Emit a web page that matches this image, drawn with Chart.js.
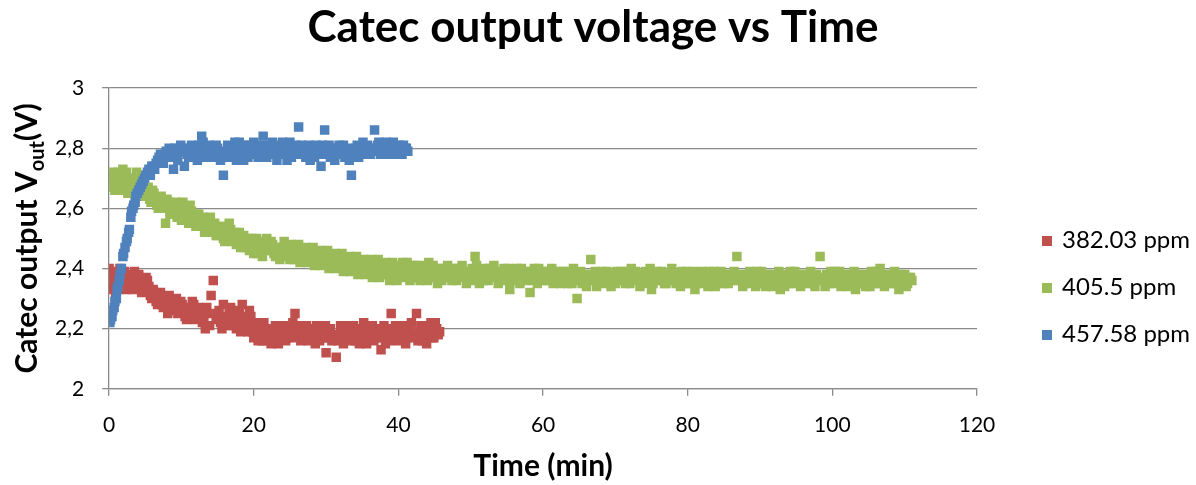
<!DOCTYPE html>
<html>
<head>
<meta charset="utf-8">
<script src="https://cdn.jsdelivr.net/npm/chart.js@4.4.0/dist/chart.umd.min.js"></script>
<style>
  html, body { margin: 0; padding: 0; background: #fff; }
  #wrap { width: 1196px; height: 485px; }
</style>
</head>
<body>
<div id="wrap"><canvas id="graph"></canvas></div>
<script>
// values (time in min, output in V)
const seriesLabels = ["382.03 ppm", "405.5 ppm", "457.58 ppm"];
const seriesColors = ["#C0504D", "#9BBB59", "#4F81BD"];

const redTime = [0.0, 0.2, 0.4, 0.7, 1.0, 1.3, 1.7, 2.1, 2.5, 2.9, 3.3, 3.7, 4.1, 4.5, 4.9, 5.3, 5.7, 6.1, 6.5, 6.9,
  7.3, 7.7, 8.1, 8.5, 8.9, 9.3, 9.7, 10.1, 10.5, 10.9, 11.3, 11.7, 12.1, 12.5, 12.9, 13.3, 13.7, 14.1, 14.4, 14.8,
  15.2, 15.6, 16.0, 16.4, 16.8, 17.2, 17.6, 18.0, 18.4, 18.8, 19.2, 19.6, 20.0, 20.4, 20.8, 21.2, 21.6, 22.0, 22.4, 22.8,
  23.2, 23.6, 24.0, 24.4, 24.8, 25.2, 25.7, 26.1, 26.5, 26.9, 27.3, 27.7, 28.1, 28.5, 28.9, 29.3, 29.7, 30.0, 30.4, 30.8,
  31.4, 31.8, 32.2, 32.6, 33.0, 33.4, 33.8, 34.2, 34.6, 35.0, 35.4, 35.8, 36.2, 36.6, 37.0, 37.6, 38.0, 38.4, 38.8, 39.0,
  39.4, 39.8, 40.2, 40.6, 41.0, 41.4, 41.8, 42.2, 42.5, 42.9, 43.3, 43.7, 44.1, 44.5, 44.9, 45.3, 45.7];
const redVolt = [2.40, 2.36, 2.33, 2.38, 2.35, 2.37, 2.34, 2.39, 2.36, 2.37, 2.33, 2.35, 2.38, 2.32, 2.34, 2.36, 2.31, 2.33, 2.29, 2.31,
  2.28, 2.30, 2.25, 2.29, 2.27, 2.30, 2.26, 2.28, 2.24, 2.27, 2.25, 2.28, 2.24, 2.26, 2.22, 2.20, 2.25, 2.31, 2.36, 2.23,
  2.26, 2.20, 2.24, 2.21, 2.27, 2.23, 2.20, 2.25, 2.28, 2.22, 2.19, 2.24, 2.17, 2.21, 2.18, 2.16, 2.20, 2.18, 2.15, 2.19,
  2.17, 2.21, 2.18, 2.16, 2.20, 2.17, 2.25, 2.19, 2.16, 2.18, 2.21, 2.17, 2.19, 2.15, 2.18, 2.20, 2.17, 2.12, 2.19, 2.16,
  2.105, 2.18, 2.20, 2.17, 2.19, 2.16, 2.21, 2.18, 2.15, 2.19, 2.17, 2.20, 2.18, 2.16, 2.19, 2.13, 2.21, 2.18, 2.16, 2.25,
  2.19, 2.17, 2.20, 2.18, 2.15, 2.19, 2.22, 2.17, 2.25, 2.19, 2.16, 2.21, 2.18, 2.22, 2.17, 2.20, 2.19];
// second pass of readings between the first ones
const redTimeB = [0.1, 0.5, 0.9, 1.5, 1.9, 2.3, 2.7, 3.1, 3.5, 3.9,
  4.3, 4.7, 5.1, 5.5, 5.9, 6.3, 6.7, 7.1, 7.5, 7.9,
  8.3, 8.7, 9.1, 9.5, 9.9, 10.3, 10.7, 11.1, 11.5, 11.9,
  12.3, 12.7, 13.1, 13.5, 13.9, 15.0, 15.4, 15.8, 16.2, 16.6,
  17.0, 17.4, 17.8, 18.2, 18.6, 19.0, 19.4, 19.8, 20.2, 20.6,
  21.0, 21.4, 21.8, 22.2, 22.6, 23.0, 23.4, 23.8, 24.2, 24.6,
  25.0, 25.4, 25.9, 26.3, 26.7, 27.1, 27.5, 27.9, 28.3, 28.7,
  29.1, 29.5, 29.9, 30.2, 30.6, 31.0, 31.6, 32.0, 32.4, 32.8,
  33.2, 33.6, 34.0, 34.4, 34.8, 35.2, 35.6, 36.0, 36.4, 36.8,
  37.2, 37.8, 38.2, 38.6, 39.2, 39.6, 40.0, 40.4, 40.8, 41.2,
  41.6, 42.0, 42.7, 43.1, 43.5, 43.9, 44.3, 44.7, 45.1, 45.5];
const redVoltB = [2.34, 2.39, 2.32, 2.40, 2.36, 2.33, 2.38, 2.35, 2.39, 2.34,
  2.36, 2.33, 2.37, 2.34, 2.30, 2.32, 2.28, 2.32, 2.27, 2.29,
  2.31, 2.26, 2.28, 2.25, 2.29, 2.27, 2.23, 2.26, 2.29, 2.23,
  2.27, 2.25, 2.23, 2.27, 2.21, 2.25, 2.22, 2.28, 2.22, 2.25,
  2.21, 2.26, 2.23, 2.19, 2.24, 2.21, 2.26, 2.19, 2.22, 2.16,
  2.19, 2.22, 2.16, 2.20, 2.17, 2.21, 2.15, 2.19, 2.21, 2.17,
  2.19, 2.22, 2.18, 2.21, 2.17, 2.19, 2.16, 2.20, 2.18, 2.21,
  2.16, 2.19, 2.21, 2.17, 2.20, 2.18, 2.16, 2.21, 2.15, 2.19,
  2.21, 2.18, 2.16, 2.20, 2.18, 2.22, 2.15, 2.18, 2.21, 2.17,
  2.20, 2.17, 2.15, 2.20, 2.17, 2.21, 2.16, 2.18, 2.21, 2.17,
  2.20, 2.18, 2.16, 2.21, 2.19, 2.15, 2.20, 2.17, 2.22, 2.18];

const greenTime = [0.0, 0.3, 0.6, 0.9, 1.2, 1.5, 1.9, 2.2, 2.6, 3.0, 3.4, 3.8, 4.2, 4.6, 5.0, 5.4, 5.8, 6.2, 6.6, 7.0,
  7.4, 7.8, 8.2, 8.6, 9.0, 9.4, 9.8, 10.2, 10.6, 11.0, 11.4, 11.8, 12.2, 12.6, 13.0, 13.4, 13.8, 14.2, 14.6, 15.0,
  15.4, 15.8, 16.2, 16.6, 17.0, 17.4, 17.8, 18.2, 18.6, 19.0, 19.4, 19.8, 20.2, 20.6, 21.0, 21.4, 21.8, 22.2, 22.6, 23.0,
  23.4, 23.8, 24.2, 24.6, 25.0, 25.4, 25.8, 26.2, 26.6, 27.0, 27.4, 27.8, 28.2, 28.6, 29.0, 29.4, 29.8, 30.2, 30.6, 31.0,
  31.4, 31.8, 32.2, 32.6, 33.0, 33.4, 33.8, 34.2, 34.6, 35.0, 35.4, 35.8, 36.2, 36.6, 37.0, 37.4, 37.8, 38.2, 38.6, 39.0,
  39.4, 39.8, 40.2, 40.6, 41.0, 41.4, 41.8, 42.2, 42.6, 43.0, 43.4, 43.8, 44.2, 44.6, 45.0, 45.4, 45.8, 46.2, 46.6, 47.0,
  47.4, 47.8, 48.2, 48.6, 49.0, 49.4, 49.8, 50.2, 50.6, 51.0, 51.4, 51.8, 52.2, 52.6, 53.0, 53.4, 53.8, 54.2, 54.6, 55.0,
  55.4, 55.8, 56.2, 56.6, 57.0, 57.4, 57.8, 58.2, 58.6, 59.0, 59.4, 59.8, 60.2, 60.6, 61.0, 61.4, 61.8, 62.2, 62.6, 63.0,
  63.4, 63.8, 64.2, 64.7, 65.0, 65.4, 65.8, 66.2, 66.6, 67.0, 67.4, 67.8, 68.2, 68.6, 69.0, 69.4, 69.8, 70.2, 70.6, 71.0,
  71.4, 71.8, 72.2, 72.6, 73.0, 73.4, 73.8, 74.2, 74.6, 75.0, 75.4, 75.8, 76.2, 76.6, 77.0, 77.4, 77.8, 78.2, 78.6, 79.0,
  79.4, 79.8, 80.2, 80.6, 81.0, 81.4, 81.8, 82.2, 82.6, 83.0, 83.4, 83.8, 84.2, 84.6, 85.0, 85.4, 85.8, 86.2, 86.8, 87.2,
  87.6, 88.0, 88.4, 88.8, 89.2, 89.6, 90.0, 90.4, 90.8, 91.2, 91.6, 92.0, 92.4, 92.8, 93.2, 93.6, 94.0, 94.4, 94.8, 95.2,
  95.6, 96.0, 96.4, 96.8, 97.2, 97.6, 98.0, 98.3, 98.8, 99.2, 99.6, 100.0, 100.4, 100.8, 101.2, 101.6, 102.0, 102.4, 102.8, 103.2,
  103.6, 104.0, 104.4, 104.8, 105.2, 105.6, 106.0, 106.4, 106.8, 107.2, 107.6, 108.0, 108.4, 108.8, 109.2, 109.6, 110.0, 110.4, 110.8];
const greenVolt = [2.71, 2.67, 2.70, 2.68, 2.72, 2.66, 2.73, 2.69, 2.65, 2.70, 2.68, 2.72, 2.71, 2.66, 2.64, 2.67, 2.62, 2.65, 2.61, 2.63,
  2.60, 2.55, 2.62, 2.59, 2.61, 2.57, 2.60, 2.62, 2.58, 2.55, 2.59, 2.56, 2.58, 2.54, 2.57, 2.53, 2.56, 2.52, 2.55, 2.51,
  2.54, 2.50, 2.53, 2.55, 2.49, 2.52, 2.50, 2.47, 2.51, 2.49, 2.46, 2.50, 2.48, 2.45, 2.49, 2.47, 2.50, 2.46, 2.48, 2.44,
  2.47, 2.45, 2.49, 2.46, 2.43, 2.47, 2.45, 2.48, 2.44, 2.46, 2.42, 2.45, 2.47, 2.43, 2.45, 2.41, 2.44, 2.46, 2.42, 2.44,
  2.40, 2.43, 2.45, 2.41, 2.43, 2.39, 2.42, 2.44, 2.40, 2.42, 2.38, 2.41, 2.43, 2.39, 2.41, 2.37, 2.40, 2.42, 2.38, 2.41,
  2.39, 2.36, 2.40, 2.42, 2.38, 2.40, 2.37, 2.41, 2.39, 2.36, 2.40, 2.38, 2.42, 2.37, 2.39, 2.35, 2.38, 2.40, 2.37, 2.39,
  2.36, 2.38, 2.40, 2.37, 2.39, 2.35, 2.38, 2.40, 2.44, 2.37, 2.39, 2.36, 2.38, 2.40, 2.37, 2.39, 2.35, 2.38, 2.40, 2.37,
  2.33, 2.39, 2.36, 2.38, 2.40, 2.37, 2.39, 2.32, 2.36, 2.38, 2.40, 2.37, 2.39, 2.36, 2.38, 2.35, 2.37, 2.39, 2.36, 2.38,
  2.35, 2.37, 2.40, 2.30, 2.37, 2.35, 2.38, 2.36, 2.43, 2.37, 2.34, 2.37, 2.39, 2.36, 2.38, 2.34, 2.37, 2.39, 2.36, 2.38,
  2.35, 2.37, 2.40, 2.36, 2.38, 2.34, 2.37, 2.39, 2.36, 2.33, 2.37, 2.39, 2.36, 2.38, 2.35, 2.37, 2.40, 2.36, 2.38, 2.34,
  2.37, 2.39, 2.35, 2.37, 2.33, 2.36, 2.38, 2.35, 2.37, 2.39, 2.36, 2.34, 2.37, 2.39, 2.35, 2.37, 2.38, 2.36, 2.44, 2.37,
  2.34, 2.36, 2.38, 2.35, 2.37, 2.39, 2.35, 2.37, 2.34, 2.36, 2.38, 2.35, 2.37, 2.33, 2.36, 2.38, 2.35, 2.37, 2.39, 2.36,
  2.34, 2.37, 2.35, 2.38, 2.36, 2.34, 2.37, 2.44, 2.36, 2.38, 2.35, 2.37, 2.39, 2.36, 2.34, 2.37, 2.35, 2.38, 2.36, 2.33,
  2.37, 2.35, 2.38, 2.36, 2.34, 2.37, 2.39, 2.35, 2.37, 2.34, 2.36, 2.38, 2.35, 2.37, 2.33, 2.36, 2.38, 2.35, 2.37];
const greenTimeB = [0.1, 0.5, 0.8, 1.1, 1.4, 1.7, 2.0, 2.4, 2.8, 3.2,
  3.6, 4.0, 4.4, 4.8, 5.2, 5.6, 6.0, 6.4, 6.8, 7.2,
  7.6, 8.0, 8.4, 8.8, 9.2, 9.6, 10.0, 10.4, 10.8, 11.2,
  11.6, 12.0, 12.4, 12.8, 13.2, 13.6, 14.0, 14.4, 14.8, 15.2,
  15.6, 16.0, 16.4, 16.8, 17.2, 17.6, 18.0, 18.4, 18.8, 19.2,
  19.6, 20.0, 20.4, 20.8, 21.2, 21.6, 22.0, 22.4, 22.8, 23.2,
  23.6, 24.0, 24.4, 24.8, 25.2, 25.6, 26.0, 26.4, 26.8, 27.2,
  27.6, 28.0, 28.4, 28.8, 29.2, 29.6, 30.0, 30.4, 30.8, 31.2,
  31.6, 32.0, 32.4, 32.8, 33.2, 33.6, 34.0, 34.4, 34.8, 35.2,
  35.6, 36.0, 36.4, 36.8, 37.2, 37.6, 38.0, 38.4, 38.8, 39.2,
  39.6, 40.0, 40.4, 40.8, 41.2, 41.6, 42.0, 42.4, 42.8, 43.2,
  43.6, 44.0, 44.4, 44.8, 45.2, 45.6, 46.0, 46.4, 46.8, 47.2,
  47.6, 48.0, 48.4, 48.8, 49.2, 49.6, 50.0, 50.4, 50.8, 51.2,
  51.6, 52.0, 52.4, 52.8, 53.2, 53.6, 54.0, 54.4, 54.8, 55.2,
  55.6, 56.0, 56.4, 56.8, 57.2, 57.6, 58.0, 58.4, 58.8, 59.2,
  59.6, 60.0, 60.4, 60.8, 61.2, 61.6, 62.0, 62.4, 62.8, 63.2,
  63.6, 64.0, 64.4, 64.9, 65.2, 65.6, 66.0, 66.4, 66.8, 67.2,
  67.6, 68.0, 68.4, 68.8, 69.2, 69.6, 70.0, 70.4, 70.8, 71.2,
  71.6, 72.0, 72.4, 72.8, 73.2, 73.6, 74.0, 74.4, 74.8, 75.2,
  75.6, 76.0, 76.4, 76.8, 77.2, 77.6, 78.0, 78.4, 78.8, 79.2,
  79.6, 80.0, 80.4, 80.8, 81.2, 81.6, 82.0, 82.4, 82.8, 83.2,
  83.6, 84.0, 84.4, 84.8, 85.2, 85.6, 86.0, 86.4, 87.0, 87.4,
  87.8, 88.2, 88.6, 89.0, 89.4, 89.8, 90.2, 90.6, 91.0, 91.4,
  91.8, 92.2, 92.6, 93.0, 93.4, 93.8, 94.2, 94.6, 95.0, 95.4,
  95.8, 96.2, 96.6, 97.0, 97.4, 97.8, 98.5, 99.0, 99.4, 99.8,
  100.2, 100.6, 101.0, 101.4, 101.8, 102.2, 102.6, 103.0, 103.4, 103.8,
  104.2, 104.6, 105.0, 105.4, 105.8, 106.2, 106.6, 107.0, 107.4, 107.8,
  108.2, 108.6, 109.0, 109.4, 109.8, 110.2, 110.6, 111.0];
const greenVoltB = [2.69, 2.72, 2.66, 2.70, 2.68, 2.71, 2.67, 2.72, 2.69, 2.66,
  2.70, 2.67, 2.69, 2.70, 2.66, 2.63, 2.66, 2.63, 2.60, 2.64,
  2.61, 2.63, 2.58, 2.60, 2.62, 2.59, 2.56, 2.60, 2.57, 2.61,
  2.57, 2.54, 2.58, 2.56, 2.52, 2.55, 2.57, 2.53, 2.51, 2.54,
  2.52, 2.49, 2.51, 2.53, 2.50, 2.48, 2.52, 2.49, 2.47, 2.50,
  2.48, 2.45, 2.50, 2.47, 2.44, 2.48, 2.46, 2.49, 2.45, 2.47,
  2.43, 2.47, 2.44, 2.46, 2.48, 2.43, 2.46, 2.42, 2.45, 2.47,
  2.43, 2.45, 2.41, 2.44, 2.46, 2.42, 2.44, 2.40, 2.43, 2.45,
  2.41, 2.44, 2.39, 2.42, 2.44, 2.40, 2.43, 2.38, 2.41, 2.43,
  2.39, 2.42, 2.37, 2.40, 2.43, 2.38, 2.41, 2.39, 2.36, 2.42,
  2.38, 2.41, 2.37, 2.39, 2.42, 2.36, 2.39, 2.41, 2.37, 2.39,
  2.41, 2.36, 2.39, 2.41, 2.37, 2.40, 2.36, 2.39, 2.41, 2.37,
  2.40, 2.36, 2.38, 2.41, 2.37, 2.39, 2.36, 2.38, 2.41, 2.35,
  2.38, 2.40, 2.36, 2.39, 2.41, 2.37, 2.39, 2.36, 2.38, 2.40,
  2.36, 2.38, 2.40, 2.35, 2.38, 2.36, 2.39, 2.37, 2.40, 2.35,
  2.38, 2.36, 2.39, 2.37, 2.40, 2.36, 2.38, 2.35, 2.39, 2.37,
  2.39, 2.35, 2.38, 2.36, 2.39, 2.37, 2.34, 2.38, 2.36, 2.39,
  2.36, 2.38, 2.35, 2.39, 2.36, 2.38, 2.35, 2.37, 2.39, 2.36,
  2.39, 2.35, 2.37, 2.39, 2.36, 2.38, 2.35, 2.37, 2.40, 2.35,
  2.38, 2.36, 2.39, 2.35, 2.38, 2.36, 2.38, 2.35, 2.37, 2.39,
  2.35, 2.38, 2.36, 2.39, 2.35, 2.37, 2.39, 2.36, 2.34, 2.37,
  2.39, 2.35, 2.38, 2.36, 2.38, 2.35, 2.37, 2.39, 2.36, 2.38,
  2.35, 2.37, 2.39, 2.36, 2.34, 2.37, 2.39, 2.35, 2.38, 2.36,
  2.34, 2.37, 2.39, 2.36, 2.34, 2.37, 2.39, 2.35, 2.37, 2.38,
  2.35, 2.38, 2.36, 2.39, 2.35, 2.38, 2.36, 2.34, 2.37, 2.39,
  2.35, 2.37, 2.39, 2.36, 2.38, 2.34, 2.37, 2.39, 2.35, 2.38,
  2.36, 2.34, 2.37, 2.39, 2.35, 2.37, 2.40, 2.36, 2.38, 2.35,
  2.37, 2.39, 2.35, 2.38, 2.36, 2.34, 2.37, 2.36];

const blueTime = [0.1, 0.4, 0.7, 1.0, 1.2, 1.5, 1.9, 2.2, 2.5, 2.8, 3.1, 3.4, 3.7, 4.1, 4.5, 4.9, 5.3, 5.7, 6.1, 6.5,
  6.9, 7.3, 7.7, 8.1, 8.5, 8.9, 9.3, 9.7, 10.1, 10.4, 10.8, 11.2, 11.6, 12.0, 12.4, 12.8, 13.2, 13.6, 14.0, 14.4,
  14.8, 15.2, 15.8, 16.2, 16.6, 17.0, 17.4, 17.8, 18.2, 18.6, 19.0, 19.4, 19.8, 20.2, 20.6, 21.3, 21.6, 22.0, 22.4, 22.8,
  23.2, 23.6, 24.0, 24.4, 24.8, 25.2, 25.6, 26.2, 26.6, 27.0, 27.4, 27.8, 28.2, 28.6, 29.3, 29.8, 30.2, 30.6, 31.0, 31.4,
  31.8, 32.2, 32.6, 33.0, 33.5, 33.9, 34.3, 34.7, 35.1, 35.5, 35.9, 36.3, 36.7, 37.1, 37.5, 37.9, 38.3, 38.7, 39.1, 39.5,
  39.9, 40.3, 40.7, 41.1];
const blueVolt = [2.22, 2.24, 2.27, 2.30, 2.34, 2.38, 2.44, 2.47, 2.50, 2.53, 2.59, 2.61, 2.64, 2.66, 2.68, 2.70, 2.72, 2.71, 2.74, 2.75,
  2.77, 2.76, 2.78, 2.77, 2.79, 2.73, 2.78, 2.80, 2.79, 2.74, 2.78, 2.80, 2.77, 2.79, 2.81, 2.84, 2.78, 2.80, 2.77, 2.79,
  2.81, 2.78, 2.71, 2.77, 2.80, 2.79, 2.82, 2.78, 2.80, 2.76, 2.79, 2.81, 2.78, 2.80, 2.77, 2.84, 2.79, 2.81, 2.78, 2.80,
  2.76, 2.79, 2.82, 2.78, 2.80, 2.77, 2.79, 2.87, 2.81, 2.78, 2.80, 2.76, 2.79, 2.81, 2.74, 2.86, 2.79, 2.77, 2.80, 2.78,
  2.81, 2.79, 2.77, 2.80, 2.71, 2.78, 2.81, 2.79, 2.82, 2.78, 2.80, 2.79, 2.86, 2.81, 2.78, 2.80, 2.82, 2.79, 2.81, 2.78,
  2.80, 2.79, 2.81, 2.80];
const blueTimeB = [0.2, 0.5, 0.8, 1.1, 1.4, 1.7, 2.0, 2.4, 2.7, 3.0,
  3.3, 3.6, 3.9, 4.3, 4.7, 5.1, 5.5, 5.9, 6.3, 6.7,
  7.1, 7.5, 7.9, 8.3, 8.7, 9.1, 9.5, 9.9, 10.6, 11.0,
  11.4, 11.8, 12.2, 12.6, 13.0, 13.4, 13.8, 14.2, 14.6, 15.0,
  15.4, 16.0, 16.4, 16.8, 17.2, 17.6, 18.0, 18.4, 18.8, 19.2,
  19.6, 20.0, 20.4, 20.8, 21.1, 21.8, 22.2, 22.6, 23.0, 23.4,
  23.8, 24.2, 24.6, 25.0, 25.4, 25.8, 26.4, 26.8, 27.2, 27.6,
  28.0, 28.4, 28.8, 29.1, 29.5, 30.0, 30.4, 30.8, 31.2, 31.6,
  32.0, 32.4, 32.8, 33.2, 33.7, 34.1, 34.5, 34.9, 35.3, 35.7,
  36.1, 36.5, 36.9, 37.3, 37.7, 38.1, 38.5, 38.9, 39.3, 39.7,
  40.1, 40.5, 40.9, 41.3];
const blueVoltB = [2.23, 2.26, 2.29, 2.33, 2.36, 2.40, 2.45, 2.49, 2.52, 2.57,
  2.60, 2.62, 2.65, 2.67, 2.69, 2.71, 2.73, 2.74, 2.73, 2.76,
  2.78, 2.75, 2.79, 2.80, 2.77, 2.80, 2.76, 2.81, 2.80, 2.77,
  2.81, 2.78, 2.76, 2.79, 2.82, 2.77, 2.81, 2.80, 2.77, 2.80,
  2.76, 2.79, 2.81, 2.77, 2.80, 2.76, 2.82, 2.79, 2.81, 2.77,
  2.80, 2.82, 2.79, 2.81, 2.78, 2.77, 2.80, 2.82, 2.79, 2.81,
  2.78, 2.80, 2.76, 2.82, 2.79, 2.81, 2.78, 2.80, 2.77, 2.81,
  2.79, 2.77, 2.80, 2.78, 2.81, 2.78, 2.81, 2.79, 2.76, 2.80,
  2.78, 2.81, 2.79, 2.76, 2.78, 2.80, 2.77, 2.80, 2.79, 2.81,
  2.78, 2.80, 2.79, 2.82, 2.79, 2.81, 2.78, 2.80, 2.82, 2.79,
  2.81, 2.78, 2.80, 2.79];

const yTicks = [2, 2.2, 2.4, 2.6, 2.8, 3];
const xTicks = [0, 20, 40, 60, 80, 100, 120];

const toPoints = (t, v) => t.map((x, i) => ({ x: x, y: v[i] }));

const gridGrey = "#8a8a8a";
const fontName = "Lato";

// chart title, centred on the whole picture like Excel does
const topTitlePlugin = {
  id: "topTitle",
  afterDraw(chart) {
    const ctx = chart.ctx;
    ctx.save();
    ctx.font = "bold 44px " + fontName;
    ctx.fillStyle = "#000";
    ctx.textAlign = "center";
    ctx.textBaseline = "alphabetic";
    ctx.fillText("Catec output voltage vs Time", 593, 42);
    ctx.restore();
  },
};

// y title has a subscript, so it is drawn by hand
const yTitlePlugin = {
  id: "yTitle",
  afterDraw(chart) {
    const ctx = chart.ctx;
    const area = chart.chartArea;
    const big = "bold 30px " + fontName;
    const small = "bold 20px " + fontName;
    const parts = [
      { text: "Catec output V", font: big, dy: 0 },
      { text: "out", font: small, dy: 7 },
      { text: "(V)", font: big, dy: 0 },
    ];
    ctx.save();
    let total = 0;
    parts.forEach((p) => {
      ctx.font = p.font;
      p.w = ctx.measureText(p.text).width;
      total += p.w;
    });
    ctx.translate(37, (area.top + area.bottom) / 2);
    ctx.rotate(-Math.PI / 2);
    ctx.fillStyle = "#000";
    ctx.textBaseline = "alphabetic";
    let x = -total / 2;
    parts.forEach((p) => {
      ctx.font = p.font;
      ctx.fillText(p.text, x, p.dy);
      x += p.w;
    });
    ctx.restore();
  },
};

// legend at the right, drawn by hand to sit where Excel puts it
const sideLegendPlugin = {
  id: "sideLegend",
  afterDraw(chart) {
    const ctx = chart.ctx;
    ctx.save();
    ctx.font = "24px " + fontName;
    ctx.textBaseline = "alphabetic";
    chart.data.datasets.forEach((ds, i) => {
      const y = 241 + i * 47;
      ctx.fillStyle = ds.backgroundColor;
      ctx.fillRect(1042, y - 5, 10, 10);
      ctx.fillStyle = "#000";
      ctx.fillText(ds.label, 1062, y + 7);
    });
    ctx.restore();
  },
};

const chartElement = document.getElementById("graph").getContext("2d");

new Chart(chartElement, {
  type: "scatter",
  data: {
    datasets: [
      { label: seriesLabels[0], data: toPoints(redTime.concat(redTimeB), redVolt.concat(redVoltB)), order: 3 },
      { label: seriesLabels[1], data: toPoints(greenTime.concat(greenTimeB), greenVolt.concat(greenVoltB)), order: 2 },
      { label: seriesLabels[2], data: toPoints(blueTime.concat(blueTimeB), blueVolt.concat(blueVoltB)), order: 1 },
    ].map((ds, i) => ({
      ...ds,
      backgroundColor: seriesColors[i],
      borderColor: seriesColors[i],
      pointStyle: "rect",
      pointRadius: 6.7,
      pointHoverRadius: 6.7,
      borderWidth: 0,
    })),
  },
  options: {
    responsive: true,
    maintainAspectRatio: false,
    animation: false,
    layout: {
      padding: { left: 37, right: 219, top: 88, bottom: 1 },
    },
    plugins: {
      legend: { display: false },
      tooltip: { enabled: false },
      title: { display: false },
    },
    scales: {
      x: {
        type: "linear",
        min: 0,
        max: 120,
        afterBuildTicks: (axis) => {
          axis.ticks = xTicks.map((v) => ({ value: v }));
        },
        grid: {
          drawOnChartArea: false,
          drawTicks: true,
          tickLength: 7,
          color: gridGrey,
          lineWidth: 1.3,
        },
        border: { color: gridGrey, width: 1.3 },
        ticks: {
          color: "#000",
          font: { family: fontName, size: 21 },
          padding: 17,
          maxRotation: 0,
        },
        title: {
          display: true,
          text: "Time (min)",
          color: "#000",
          font: { family: fontName, size: 30, weight: "bold" },
          padding: { top: -7, bottom: 0 },
        },
      },
      y: {
        min: 2,
        max: 3,
        afterBuildTicks: (axis) => {
          axis.ticks = yTicks.map((v) => ({ value: v }));
        },
        grid: {
          color: gridGrey,
          lineWidth: 1.3,
          drawTicks: true,
          tickLength: 7,
        },
        border: { color: gridGrey, width: 1.3 },
        ticks: {
          color: "#000",
          font: { family: fontName, size: 21 },
          padding: 18,
          callback: (v) => (Number.isInteger(v) ? String(v) : v.toFixed(1).replace(".", ",")),
        },
      },
    },
  },
  plugins: [topTitlePlugin, yTitlePlugin, sideLegendPlugin],
});
</script>
</body>
</html>
